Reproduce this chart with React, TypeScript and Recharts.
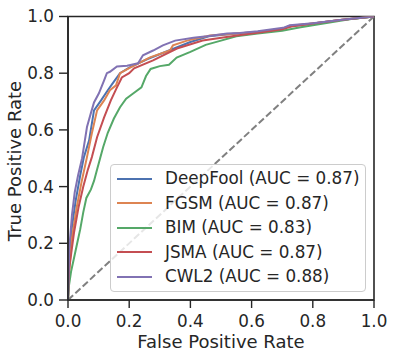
import React from 'react';
import { LineChart, Line, XAxis, YAxis, Legend, ReferenceLine, ReferenceArea, Label } from 'recharts';

const seriesNames = ['DeepFool', 'FGSM', 'BIM', 'JSMA', 'CWL2'];
const aucValues = ['0.87', '0.87', '0.83', '0.87', '0.88'];
const seriesColors = ['#4c72b0', '#dd8452', '#55a868', '#c44e52', '#8172b3'];
const tickValues = [0, 0.2, 0.4, 0.6, 0.8, 1.0];

const deepfoolFpr = [0, 0.004, 0.012, 0.025, 0.04, 0.052, 0.069, 0.085, 0.108, 0.13, 0.15, 0.17, 0.2, 0.26, 0.33, 0.4, 0.46, 0.55, 0.62, 0.7, 0.72, 0.8, 0.89, 1.0];
const deepfoolTpr = [0, 0.15, 0.25, 0.35, 0.44, 0.504, 0.563, 0.669, 0.704, 0.74, 0.77, 0.8, 0.82, 0.85, 0.88, 0.91, 0.93, 0.94, 0.945, 0.955, 0.965, 0.975, 0.988, 1.0];

const fgsmFpr = [0, 0.005, 0.013, 0.029, 0.045, 0.062, 0.078, 0.095, 0.118, 0.137, 0.157, 0.17, 0.203, 0.268, 0.333, 0.343, 0.389, 0.464, 0.55, 0.62, 0.703, 0.725, 0.8, 0.889, 1.0];
const fgsmTpr = [0, 0.12, 0.22, 0.33, 0.42, 0.504, 0.588, 0.669, 0.704, 0.74, 0.757, 0.8, 0.82, 0.856, 0.88, 0.898, 0.915, 0.933, 0.94, 0.945, 0.958, 0.967, 0.975, 0.988, 1.0];

const bimFpr = [0, 0.003, 0.01, 0.02, 0.03, 0.04, 0.05, 0.06, 0.075, 0.085, 0.095, 0.105, 0.115, 0.13, 0.15, 0.17, 0.19, 0.215, 0.24, 0.255, 0.27, 0.3, 0.33, 0.355, 0.4, 0.45, 0.5, 0.55, 0.62, 0.7, 0.76, 0.85, 0.92, 1.0];
const bimTpr = [0, 0.05, 0.1, 0.15, 0.2, 0.25, 0.31, 0.36, 0.39, 0.42, 0.46, 0.5, 0.54, 0.59, 0.64, 0.68, 0.71, 0.73, 0.75, 0.79, 0.815, 0.825, 0.83, 0.855, 0.875, 0.9, 0.915, 0.93, 0.94, 0.95, 0.962, 0.978, 0.99, 1.0];

const jsmaFpr = [0, 0.003, 0.01, 0.02, 0.035, 0.05, 0.065, 0.078, 0.095, 0.118, 0.14, 0.16, 0.176, 0.2, 0.216, 0.278, 0.356, 0.44, 0.552, 0.62, 0.7, 0.73, 0.8, 0.89, 1.0];
const jsmaTpr = [0, 0.1, 0.16, 0.24, 0.33, 0.4, 0.46, 0.504, 0.574, 0.644, 0.704, 0.75, 0.785, 0.8, 0.817, 0.845, 0.887, 0.915, 0.933, 0.943, 0.955, 0.965, 0.975, 0.988, 1.0];

const cwl2Fpr = [0, 0.004, 0.013, 0.022, 0.033, 0.046, 0.062, 0.075, 0.085, 0.101, 0.118, 0.127, 0.137, 0.16, 0.193, 0.229, 0.245, 0.278, 0.31, 0.35, 0.41, 0.454, 0.52, 0.562, 0.62, 0.703, 0.725, 0.8, 0.889, 0.95, 1.0];
const cwl2Tpr = [0, 0.18, 0.3, 0.38, 0.44, 0.5, 0.61, 0.66, 0.697, 0.729, 0.775, 0.8, 0.805, 0.824, 0.826, 0.835, 0.863, 0.88, 0.898, 0.915, 0.925, 0.93, 0.94, 0.942, 0.948, 0.96, 0.969, 0.976, 0.988, 0.995, 1.0];

const fprLists = [deepfoolFpr, fgsmFpr, bimFpr, jsmaFpr, cwl2Fpr];
const tprLists = [deepfoolTpr, fgsmTpr, bimTpr, jsmaTpr, cwl2Tpr];

const seriesData = fprLists.map((fprs, i) => fprs.map((f, j) => ({ fpr: f, tpr: tprLists[i][j] })));

const FONT = '"DejaVu Sans", sans-serif';
const TXT = '#262626';
const FS = 16.8;
const LFS = 18;

const LegendBox = () => (
  <div
    style={{
      width: '100%',
      height: '100%',
      boxSizing: 'border-box',
      border: '1px solid #cccccc',
      borderRadius: 4,
      background: 'rgba(255,255,255,0.8)',
      paddingTop: 1.5,
      fontFamily: FONT,
      fontSize: FS,
      color: TXT,
    }}
  >
    {seriesNames.map((name, i) => (
      <div key={name} style={{ display: 'flex', alignItems: 'center', height: 24.5 }}>
        <div style={{ marginLeft: 6, width: 35, height: 2, background: seriesColors[i] }} />
        <div style={{ marginLeft: 13, whiteSpace: 'nowrap', lineHeight: 1 }}>{`${name} (AUC = ${aucValues[i]})`}</div>
      </div>
    ))}
  </div>
);

export default function App() {
  return (
    <div style={{ position: 'absolute', left: 0, top: 0, width: 395, height: 359, background: '#fff' }}>
      <LineChart width={395} height={359} margin={{ top: 16.5, right: 21, left: 0, bottom: 0 }}>
        <XAxis
          dataKey="fpr"
          type="number"
          domain={[0, 1]}
          ticks={tickValues}
          tickFormatter={(v: number) => v.toFixed(1)}
          allowDataOverflow
          height={59}
          tickSize={8}
          tickMargin={7}
          axisLine={{ stroke: TXT, strokeWidth: 1.6 }}
          tickLine={{ stroke: TXT, strokeWidth: 1.4 }}
          tick={{ fill: TXT, fontSize: FS, fontFamily: FONT }}
        >
          <Label value="False Positive Rate" position="insideBottom" offset={11} fill={TXT} fontSize={LFS} fontFamily={FONT} />
        </XAxis>
        <YAxis
          type="number"
          domain={[0, 1]}
          ticks={tickValues}
          tickFormatter={(v: number) => v.toFixed(1)}
          allowDataOverflow
          width={68}
          tickSize={9}
          tickMargin={5}
          axisLine={{ stroke: TXT, strokeWidth: 1.6 }}
          tickLine={{ stroke: TXT, strokeWidth: 1.4 }}
          tick={{ fill: TXT, fontSize: FS, fontFamily: FONT }}
        >
          <Label
            content={() => (
              <text
                x={21}
                y={161}
                transform="rotate(-90, 21, 161)"
                textAnchor="middle"
                fill={TXT}
                fontSize={LFS}
                fontFamily={FONT}
              >
                True Positive Rate
              </text>
            )}
          />
        </YAxis>
        <ReferenceLine
          segment={[{ x: 0, y: 0 }, { x: 1, y: 1 }]}
          stroke="#808080"
          strokeWidth={2}
          strokeDasharray="7 3"
          ifOverflow="visible"
        />
        {seriesNames.map((name, i) => (
          <Line
            key={name}
            data={seriesData[i]}
            dataKey="tpr"
            name={name}
            type="linear"
            stroke={seriesColors[i]}
            strokeWidth={2}
            dot={false}
            activeDot={false}
            isAnimationActive={false}
          />
        ))}
        <ReferenceArea x1={0} x2={1} y1={0} y2={1} fill="none" stroke={TXT} strokeWidth={1.6} ifOverflow="visible" />
        <Legend
          layout="vertical"
          align="center"
          verticalAlign="middle"
          content={() => <LegendBox />}
          wrapperStyle={{ position: 'absolute', left: 110, top: 164, width: 256, height: 128 }}
        />
      </LineChart>
    </div>
  );
}
